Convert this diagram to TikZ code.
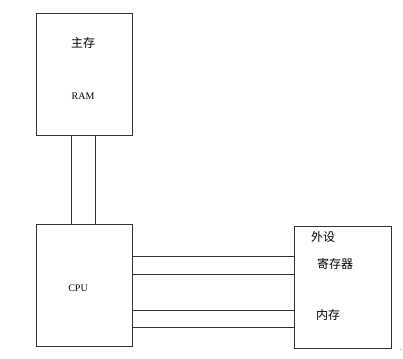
\documentclass[tikz,border=0pt]{standalone}
\usepackage{fontspec}
\setmainfont{Liberation Serif}
\newfontfamily\cjk{Noto Sans CJK SC}
\begin{document}
\begin{tikzpicture}[x=1pt,y=-1pt,
  box/.style={draw=black!80,line width=0.9pt},
  link/.style={draw=black!80,line width=0.9pt},
  cn/.style={font=\cjk\fontsize{12}{14}\selectfont,inner sep=0pt},
  en/.style={font=\fontsize{10}{12}\selectfont,inner sep=0pt}]
\useasboundingbox (0,0) rectangle (403,358);
\fill[white] (0,0) rectangle (403,358);
\node[box,minimum width=96pt,minimum height=122pt,anchor=north west,inner sep=0pt] (ram) at (36,13) {};
\node[box,minimum width=96pt,minimum height=122pt,anchor=north west,inner sep=0pt] (cpu) at (36,224) {};
\node[box,minimum width=97pt,minimum height=122pt,anchor=north west,inner sep=0pt] (dev) at (294,226) {};
\node[cn] (t1) at (83,43) {主存};
\node[en] (t2) at (83,96) {RAM};
\node[en] (t3) at (78,288) {CPU};
\node[cn] (t4) at (323,237) {外设};
\node[cn] (t5) at (335,264) {寄存器};
\node[cn] (t6) at (328,315) {内存};
\draw[link] (ram.south west) ++(35,0) coordinate (a1) -- (a1 |- cpu.north);
\draw[link] (ram.south west) ++(59,0) coordinate (a2) -- (a2 |- cpu.north);
\foreach \yy [count=\i] in {256,274,310,327} {
  \coordinate (l\i) at (cpu.east |- 0,\yy);
  \draw[link] (l\i) -- (l\i -| dev.west);
}
\node[font=\fontsize{5}{5}\selectfont,text=black!50,inner sep=0pt] (mk) at (401,350) {+};
\end{tikzpicture}
\end{document}
